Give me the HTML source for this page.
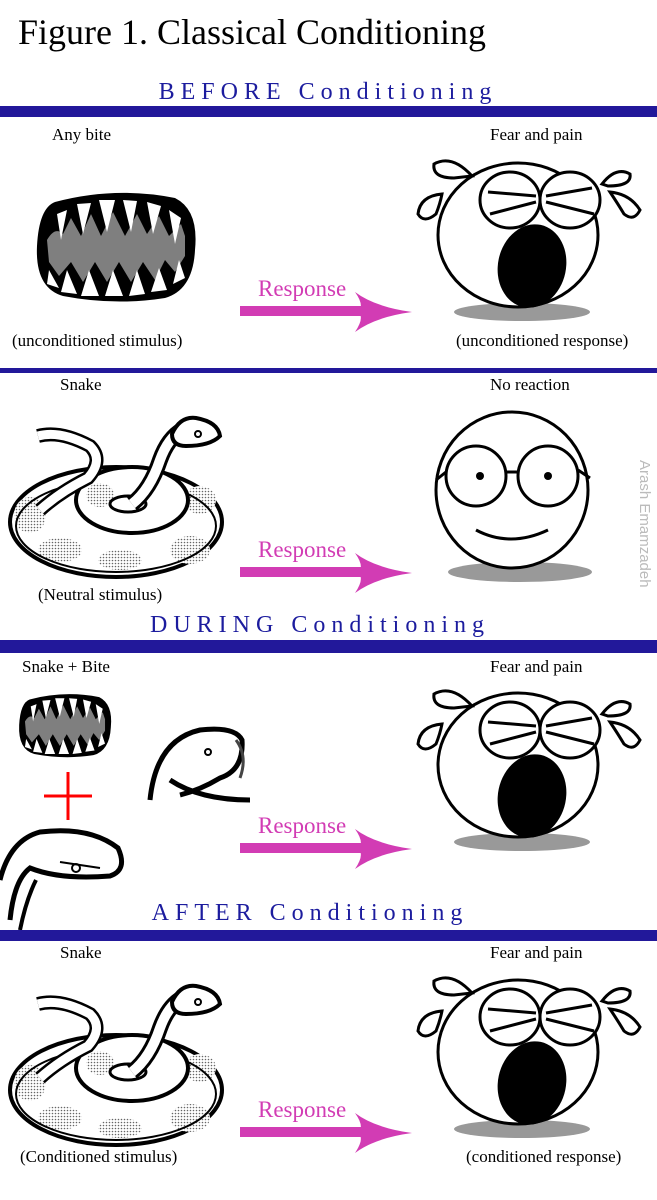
<!DOCTYPE html>
<html><head><meta charset="utf-8"><style>
body{margin:0;background:#fff;}
svg{display:block;}
.t{font-family:"Liberation Serif",serif;fill:#000;}
.h{font-family:"Liberation Serif",serif;fill:#1c1c9e;font-size:24px;letter-spacing:6px;}
.r{font-family:"Liberation Serif",serif;fill:#d23cb4;font-size:23px;}
</style></head><body>
<svg width="657" height="1200" viewBox="0 0 657 1200" xmlns="http://www.w3.org/2000/svg">
<defs>
<pattern id="dots" width="3" height="3" patternUnits="userSpaceOnUse"><rect width="3" height="3" fill="#fff"/><circle cx="1.5" cy="1.5" r="0.8" fill="#666"/></pattern>
<symbol id="mouth" viewBox="0 0 162 112" overflow="visible">
<path d="M20 12 Q80 -4 140 8 Q164 20 160 60 Q158 100 130 108 Q80 116 28 106 Q0 98 2 56 Q4 18 20 12Z" fill="#000"/>
<path d="M12 50 Q20 36 28 44 L36 28 L46 46 L56 24 L66 46 L78 22 L90 46 L102 24 L112 44 L124 26 L134 46 L146 34 L150 46 L150 66 L140 82 L130 70 L120 90 L108 72 L96 92 L84 72 L72 92 L60 72 L48 92 L36 72 L24 86 L14 72 Z" fill="#7f7f7f"/>
<path d="M22 24 L32 20 L26 50 Z M42 14 L56 13 L48 44Z M64 10 L80 10 L72 42Z M88 10 L102 11 L96 42Z M112 12 L126 16 L118 44Z M134 20 L146 28 L140 54Z" fill="#fff"/>
<path d="M14 80 L24 98 L12 94Z M32 80 L42 104 L26 102Z M54 80 L64 106 L46 106Z M78 80 L88 106 L70 106Z M102 80 L110 104 L94 106Z M124 78 L132 100 L116 102Z M144 70 L150 88 L138 94Z" fill="#fff"/>
</symbol>
<symbol id="cry" viewBox="0 0 240 170" overflow="visible">
<ellipse cx="112" cy="164" rx="68" ry="9" fill="#999"/>
<ellipse cx="108" cy="87" rx="80" ry="72" fill="#fff" stroke="#000" stroke-width="3"/>
<ellipse cx="100" cy="52" rx="30" ry="28" fill="#fff" stroke="#000" stroke-width="3"/>
<ellipse cx="160" cy="52" rx="30" ry="28" fill="#fff" stroke="#000" stroke-width="3"/>
<path d="M78 44 L126 48 M80 66 L126 54 M136 48 L182 40 M136 54 L184 66" stroke="#000" stroke-width="3" fill="none"/>
<ellipse cx="122" cy="118" rx="34" ry="42" fill="#000" transform="rotate(12 122 118)"/>
<path d="M32 46 Q10 48 8 66 Q14 76 26 66 Q30 56 32 46Z" fill="#fff" stroke="#000" stroke-width="3"/>
<path d="M62 28 Q42 6 24 16 Q22 30 44 30Z" fill="#fff" stroke="#000" stroke-width="3"/>
<path d="M192 36 Q206 18 220 26 Q222 38 198 38Z" fill="#fff" stroke="#000" stroke-width="3"/>
<path d="M200 44 Q220 46 230 62 Q224 74 214 66 Q208 56 200 44Z" fill="#fff" stroke="#000" stroke-width="3"/>
</symbol>
<symbol id="snake" viewBox="0 0 240 200" overflow="visible">
<ellipse cx="116" cy="122" rx="106" ry="55" fill="#fff" stroke="#000" stroke-width="4"/>
<ellipse cx="30" cy="115" rx="16" ry="18" fill="url(#dots)"/>
<ellipse cx="60" cy="150" rx="22" ry="12" fill="url(#dots)"/>
<ellipse cx="120" cy="160" rx="22" ry="10" fill="url(#dots)"/>
<ellipse cx="190" cy="150" rx="20" ry="14" fill="url(#dots)"/>
<ellipse cx="200" cy="100" rx="16" ry="14" fill="url(#dots)"/>
<ellipse cx="150" cy="78" rx="18" ry="8" fill="url(#dots)"/>
<ellipse cx="116" cy="126" rx="100" ry="46" fill="none" stroke="#000" stroke-width="2"/>
<ellipse cx="132" cy="100" rx="56" ry="33" fill="#fff" stroke="#000" stroke-width="4"/>
<ellipse cx="100" cy="95" rx="14" ry="12" fill="url(#dots)"/>
<ellipse cx="128" cy="104" rx="18" ry="8" fill="#fff" stroke="#000" stroke-width="3"/>
<path d="M38 36 Q60 30 90 46 Q104 60 88 78 Q60 92 40 110" fill="none" stroke="#000" stroke-width="14"/>
<path d="M38 36 Q60 30 90 46 Q104 60 88 78 Q60 92 40 110" fill="none" stroke="#fff" stroke-width="9"/>
<path d="M132 104 Q150 90 160 60 Q168 38 182 30" fill="none" stroke="#000" stroke-width="16"/>
<path d="M132 104 Q150 90 160 60 Q168 38 182 30" fill="none" stroke="#fff" stroke-width="10"/>
<path d="M172 34 Q180 16 196 18 Q218 22 220 36 Q210 46 186 46 Q172 46 172 34Z" fill="#fff" stroke="#000" stroke-width="4"/>
<circle cx="198" cy="34" r="3" fill="#fff" stroke="#000" stroke-width="2"/>
</symbol>
<symbol id="arrow" viewBox="0 0 175 40" overflow="visible">
<rect x="0" y="14" width="125" height="10" fill="#d23cb4"/>
<path d="M115 0 Q135 15 172 20 Q135 25 115 40 Q125 25 118 20 Q125 14 115 0Z" fill="#d23cb4"/>
</symbol>
</defs>

<text x="18" y="44" class="t" font-size="36">Figure 1. Classical Conditioning</text>

<text x="328" y="99" text-anchor="middle" class="h">BEFORE  Conditioning</text>
<rect x="0" y="106" width="657" height="11" fill="#22189a"/>
<text x="52" y="140" class="t" font-size="17">Any bite</text>
<text x="490" y="140" class="t" font-size="17">Fear and pain</text>
<use href="#mouth" x="35" y="190" width="162" height="112"/>
<text x="258" y="296" class="r">Response</text>
<use href="#arrow" x="240" y="292" width="175" height="40"/>
<use href="#cry" x="410" y="148" width="240" height="170"/>
<text x="12" y="346" class="t" font-size="17">(unconditioned stimulus)</text>
<text x="456" y="346" class="t" font-size="17">(unconditioned response)</text>

<rect x="0" y="368" width="657" height="5" fill="#22189a"/>
<text x="60" y="390" class="t" font-size="17">Snake</text>
<text x="490" y="390" class="t" font-size="17">No reaction</text>
<use href="#snake" x="0" y="400" width="240" height="200"/>
<ellipse cx="520" cy="572" rx="72" ry="10" fill="#999"/>
<ellipse cx="512" cy="490" rx="76" ry="78" fill="#fff" stroke="#000" stroke-width="3"/>
<circle cx="476" cy="476" r="30" fill="none" stroke="#000" stroke-width="3"/>
<circle cx="548" cy="476" r="30" fill="none" stroke="#000" stroke-width="3"/>
<path d="M446 472 L436 480 M506 472 L518 472 M578 470 L590 478" stroke="#000" stroke-width="3"/>
<circle cx="480" cy="476" r="4" fill="#000"/><circle cx="548" cy="476" r="4" fill="#000"/>
<path d="M476 530 Q510 548 548 530" fill="none" stroke="#000" stroke-width="3"/>
<text x="258" y="557" class="r">Response</text>
<use href="#arrow" x="240" y="553" width="175" height="40"/>
<text x="38" y="600" class="t" font-size="17">(Neutral stimulus)</text>
<text transform="translate(640,460) rotate(90)" font-family="Liberation Sans,sans-serif" font-size="15" fill="#bbb">Arash Emamzadeh</text>

<text x="320" y="632" text-anchor="middle" class="h">DURING  Conditioning</text>
<rect x="0" y="640" width="657" height="13" fill="#22189a"/>
<text x="22" y="672" class="t" font-size="17">Snake + Bite</text>
<text x="490" y="672" class="t" font-size="17">Fear and pain</text>
<use href="#mouth" x="18" y="690" width="94" height="70"/>
<path d="M44 796 L92 796 M68 772 L68 820" stroke="#f00" stroke-width="3"/>
<path d="M0 880 Q10 840 40 832 Q90 826 118 848 Q128 870 110 876 Q60 880 30 868 Q14 880 10 920" fill="#fff" stroke="#000" stroke-width="5"/>
<path d="M20 930 Q26 900 36 880" fill="none" stroke="#000" stroke-width="4"/>
<circle cx="76" cy="868" r="4" fill="#fff" stroke="#000" stroke-width="2"/>
<path d="M60 862 L100 868" stroke="#000" stroke-width="2"/>
<path d="M150 800 Q156 740 200 730 Q235 726 242 740 Q244 770 220 778 Q200 790 180 795 M170 780 Q200 800 250 800" fill="none" stroke="#000" stroke-width="5"/>
<path d="M236 740 Q248 756 240 778" fill="none" stroke="#444" stroke-width="3"/>
<circle cx="208" cy="752" r="3" fill="#fff" stroke="#000" stroke-width="2"/>
<text x="258" y="833" class="r">Response</text>
<use href="#arrow" x="240" y="829" width="175" height="40"/>
<use href="#cry" x="410" y="678" width="240" height="170"/>

<text x="310" y="920" text-anchor="middle" class="h">AFTER  Conditioning</text>
<rect x="0" y="930" width="657" height="11" fill="#22189a"/>
<text x="60" y="958" class="t" font-size="17">Snake</text>
<text x="490" y="958" class="t" font-size="17">Fear and pain</text>
<use href="#snake" x="0" y="968" width="240" height="200"/>
<text x="258" y="1117" class="r">Response</text>
<use href="#arrow" x="240" y="1113" width="175" height="40"/>
<use href="#cry" x="410" y="965" width="240" height="170"/>
<text x="20" y="1162" class="t" font-size="17">(Conditioned stimulus)</text>
<text x="466" y="1162" class="t" font-size="17">(conditioned response)</text>
</svg>
</body></html>
